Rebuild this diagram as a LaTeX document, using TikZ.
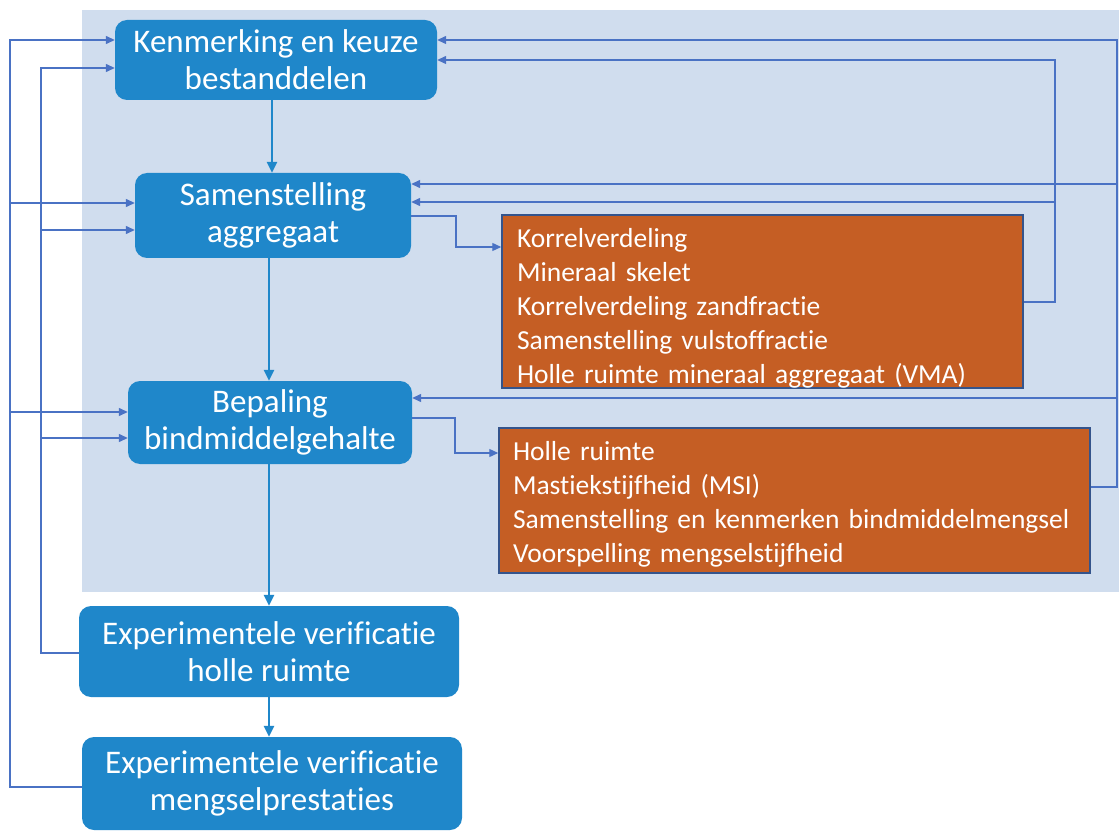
\documentclass[tikz,border=0pt]{standalone}
\usepackage{fontspec}
\setmainfont{Carlito}[Ligatures=NoCommon]
\usetikzlibrary{arrows.meta}
\definecolor{bgblue}{HTML}{D0DDEE}
\definecolor{boxblue}{HTML}{1F87CA}
\definecolor{orangefill}{HTML}{C55E24}
\definecolor{orangeedge}{HTML}{34548C}
\definecolor{fbline}{HTML}{4A72C4}
\tikzset{
  bluebox/.style={fill=boxblue, rounded corners=12pt, text=white, align=center,
    font=\fontsize{33}{37}\selectfont, inner sep=0pt},
  orangebox/.style={fill=orangefill, draw=orangeedge, line width=1.5pt, text=white,
    align=left, font=\fontsize{27.5}{34}\selectfont, inner sep=0pt, anchor=center},
  mainarrow/.style={draw=boxblue, line width=2.8pt, -{Triangle[length=11pt,width=10pt]}},
  fb/.style={draw=fbline, line width=1.3pt},
  fbarrow/.style={fb, -{Triangle[length=9pt,width=8pt]}},
}
\begin{document}
\begin{tikzpicture}[x=1pt,y=-1pt]
\useasboundingbox (0,0) rectangle (1119,834);
\fill[white] (0,0) rectangle (1119,834);
\fill[bgblue] (82,10) rectangle (1119,592);

\node[bluebox, minimum width=322pt, minimum height=80pt] (n1) at (276,60) {Kenmerking en keuze\\bestanddelen};
\node[bluebox, minimum width=276pt, minimum height=85pt] (n2) at (273,215.5) {Samenstelling\\aggregaat};
\node[bluebox, minimum width=284pt, minimum height=83pt] (n3) at (270,422.5) {Bepaling\\bindmiddelgehalte};
\node[bluebox, minimum width=380pt, minimum height=91pt] (n4) at (269,651.5) {Experimentele verificatie\\holle ruimte};
\node[bluebox, minimum width=380pt, minimum height=93pt] (n5) at (272,783.5) {Experimentele verificatie\\mengselprestaties};

\node[orangebox, minimum width=521pt, minimum height=173pt, text width=491pt] (o1) at (762.5,301.5)
  {\rule{0pt}{32pt}Korrelverdeling\\Mineraal skelet\\Korrelverdeling zandfractie\\Samenstelling vulstoffractie\\Holle ruimte mineraal aggregaat (VMA)};
\node[orangebox, minimum width=591pt, minimum height=145pt, text width=563pt] (o2) at (794.5,500.5)
  {\rule{0pt}{26pt}Holle ruimte\\Mastiekstijfheid (MSI)\\Samenstelling en kenmerken bindmiddelmengsel\\Voorspelling mengselstijfheid};

% main flow
\draw[mainarrow] (n1.south -| 272,0) -- (n2.north -| 272,0);
\draw[mainarrow] (n2.south -| 269,0) -- (n3.north -| 269,0);
\draw[mainarrow] (n3.south -| 269,0) -- (n4.north -| 269,0);
\draw[mainarrow] (n4.south -| 269,0) -- (n5.north -| 269,0);

% node -> detail boxes
\draw[fbarrow] (n2.east |- 0,216) -| (456,247) -- (o1.west |- 0,247);
\draw[fbarrow] (n3.east |- 0,418) -| (455,453) -- (o2.west |- 0,453);

% left feedback, outer
\coordinate (lo) at (10,40);
\draw[fbarrow] (n5.west |- 0,787) -| (lo) -- (n1.west |- lo);
\draw[fbarrow] (10,203) -- (n2.west |- 0,203);
\draw[fbarrow] (10,412) -- (n3.west |- 0,412);
% left feedback, inner
\coordinate (li) at (41,68);
\draw[fbarrow] (n4.west |- 0,653) -| (li) -- (n1.west |- li);
\draw[fbarrow] (41,230) -- (n2.west |- 0,230);
\draw[fbarrow] (41,438) -- (n3.west |- 0,438);

% right feedback, outer
\coordinate (ro) at (1117,40);
\draw[fbarrow] (o2.east |- 0,487) -| (ro) -- (n1.east |- ro);
\draw[fbarrow] (1117,184) -- (n2.east |- 0,184);
\draw[fbarrow] (1117,398) -- (n3.east |- 0,398);
% right feedback, inner
\coordinate (ri) at (1055,60);
\draw[fbarrow] (o1.east |- 0,302) -| (ri) -- (n1.east |- ri);
\draw[fbarrow] (1055,202) -- (n2.east |- 0,202);
\end{tikzpicture}
\end{document}
